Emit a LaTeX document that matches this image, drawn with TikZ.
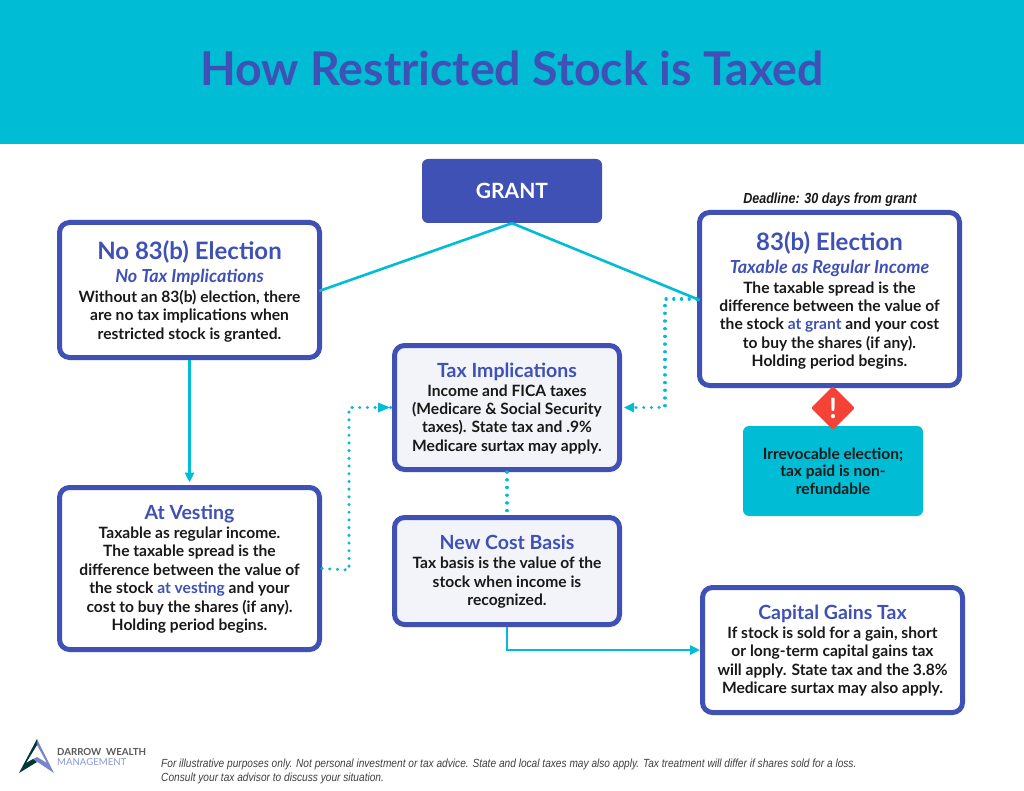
\documentclass[tikz,border=0pt]{standalone}
\usepackage{fontspec}
\setmainfont{Lato}
\newfontfamily\finefont[FakeStretch=0.86]{Liberation Sans}
\usetikzlibrary{arrows.meta,shapes.geometric}
\definecolor{tealhead}{RGB}{0,188,212}
\definecolor{indigo}{RGB}{63,81,181}
\definecolor{paleblue}{RGB}{242,244,250}
\definecolor{alertred}{RGB}{244,67,54}
\definecolor{inktext}{RGB}{25,25,25}
\tikzset{
	box/.style={draw=indigo, line width=5pt, rounded corners=10pt, fill=white, align=center, text=inktext, inner sep=0pt, font=\fontsize{15.6}{18.4}\selectfont\bfseries},
	palebox/.style={box, fill=paleblue},
	link/.style={draw=tealhead, line width=2.6pt},
	dotlink/.style={draw=tealhead, line width=3.2pt, line cap=round, dash pattern=on 0.2pt off 7.5pt},
	tip/.style={-{Triangle[length=10pt,width=9pt,fill=tealhead]}, shorten >=2.5pt}
}
\newcommand{\boxtitle}[1]{{\color{indigo}\fontsize{19.5}{20}\selectfont\bfseries\rule{0pt}{16pt}#1}}
\newcommand{\bigtitle}[1]{{\color{indigo}\fontsize{24}{26}\selectfont\bfseries\rule{0pt}{22pt}#1}}
\newcommand{\subtitle}[1]{{\color{indigo}\fontsize{18}{20}\selectfont\itshape\bfseries #1}}
\begin{document}
\begin{tikzpicture}[x=1pt,y=-1pt]
	\useasboundingbox (0,0) rectangle (1024,791);
	\fill[white] (0,0) rectangle (1024,791);
	\fill[tealhead] (0,0) rectangle (1024,144);

	\node[text=indigo, font=\fontsize{46.5}{50}\selectfont\bfseries] (title) at (512,68) {How Restricted Stock is Taxed};

	\node[fill=indigo, rounded corners=6pt, minimum width=180pt, minimum height=64pt, inner sep=0pt, text=white, font=\fontsize{21}{24}\selectfont\bfseries] (grant) at (512,191) {\raisebox{-1pt}{GRANT}};

	\node[box, minimum width=260pt, minimum height=135pt] (noelect) at (189.5,290) {\bigtitle{No 83(b) Election}\\[4.5pt]
		\subtitle{No Tax Implications}\\[1.5pt]
		Without an 83(b) election, there\\ are no tax implications when\\ restricted stock is granted.};

	\node[box, minimum width=260pt, minimum height=173pt] (elect) at (829.5,299) {\bigtitle{83(b) Election}\\[4.5pt]
		\subtitle{Taxable as Regular Income}\\[1.5pt]
		The taxable spread is the\\ difference between the value of\\ the stock {\color{indigo}at grant} and your cost\\ to buy the shares (if any).\\ Holding period begins.};
	\node[font=\fontsize{14.6}{16}\finefont\itshape\bfseries, text=black!90] (deadline) at (830,199.5) {Deadline: 30 days from grant};

	\node[palebox, minimum width=225pt, minimum height=124pt] (impl) at (507,407.5) {\boxtitle{Tax Implications}\\[0.5pt]
		Income and FICA taxes\\ (Medicare \& Social Security\\ taxes). State tax and .9\%\\ Medicare surtax may apply.};

	\node[palebox, minimum width=225pt, minimum height=107pt] (basis) at (507,571) {\boxtitle{New Cost Basis}\\[0.5pt]
		Tax basis is the value of the\\ stock when income is\\ recognized.};

	\node[box, minimum width=260pt, minimum height=162pt] (vest) at (189.5,568.5) {\boxtitle{At Vesting}\\[0.5pt]
		Taxable as regular income.\\ The taxable spread is the\\ difference between the value of\\ the stock {\color{indigo}at vesting} and your\\ cost to buy the shares (if any).\\ Holding period begins.};

	\node[box, minimum width=260pt, minimum height=125pt] (gains) at (832.5,650) {\boxtitle{Capital Gains Tax}\\[0.5pt]
		If stock is sold for a gain, short\\ or long-term capital gains tax\\ will apply. State tax and the 3.8\%\\ Medicare surtax may also apply.};

	\node[fill=tealhead, rounded corners=6pt, minimum width=180pt, minimum height=90pt, inner sep=0pt, align=center, text=inktext, font=\fontsize{15.5}{17.5}\selectfont\bfseries] (warn) at (833,471) {Irrevocable election;\\ tax paid is non-\\ refundable};

	\node[diamond, fill=alertred, minimum width=44pt, minimum height=44pt, inner sep=0pt, rounded corners=2pt, text=white, font=\fontsize{28}{28}\selectfont\bfseries] (alert) at (833,408) {!};

	\draw[link, shorten >=-3pt] (grant.south) -- (noelect.east);
	\draw[link, shorten >=-3pt] (grant.south) -- (elect.west);
	\draw[link,tip] (noelect.south) -- (vest.north);
	\draw[link,-{Triangle[length=10pt,width=9pt,fill=tealhead]}] (basis.south) |- (gains.west);

	\coordinate (leftbend) at (349,570);
	\coordinate (rightbend) at (665,299);
	\draw[dotlink] (vest.east) -- (leftbend) |- (impl.west);
	\draw[dotlink] (elect.west) -- (rightbend) |- (impl.east);
	\draw[dotlink] (impl.south) -- (basis.north);
	\fill[tealhead] (impl.west) ++(-2,0) -- ++(-12,-5) -- ++(0,10) -- cycle;
	\fill[tealhead] (impl.east) ++(2,0) -- ++(10,-5) -- ++(0,10) -- cycle;

	% logo
	\fill[indigo!70!white] (37,739) -- (54,773) -- (33,759) -- (37,757) -- (47,763) -- (37,745) -- cycle;
	\fill[black!55!teal] (37,739) -- (19,773) -- (37,762) -- (33,759) -- (26,763) -- (37,745) -- cycle;
	\node[anchor=west, inner sep=0pt, text=black!65, font=\fontsize{9.7}{11}\selectfont\bfseries] (logotop) at (57,752) {DARROW\ \ WEALTH};
	\node[anchor=west, inner sep=0pt, text=indigo!60!white, font=\fontsize{9.6}{11}\selectfont] (logolow) at (57,762) {MANAGEMENT};

	\node[anchor=north west, align=left, inner sep=0pt, text=black!75, font=\fontsize{11.8}{14}\finefont\itshape] (note) at (161,758.5) {For illustrative purposes only. Not personal investment or tax advice. State and local taxes may also apply. Tax treatment will differ if shares sold for a loss.\\ Consult your tax advisor to discuss your situation.};
\end{tikzpicture}
\end{document}
